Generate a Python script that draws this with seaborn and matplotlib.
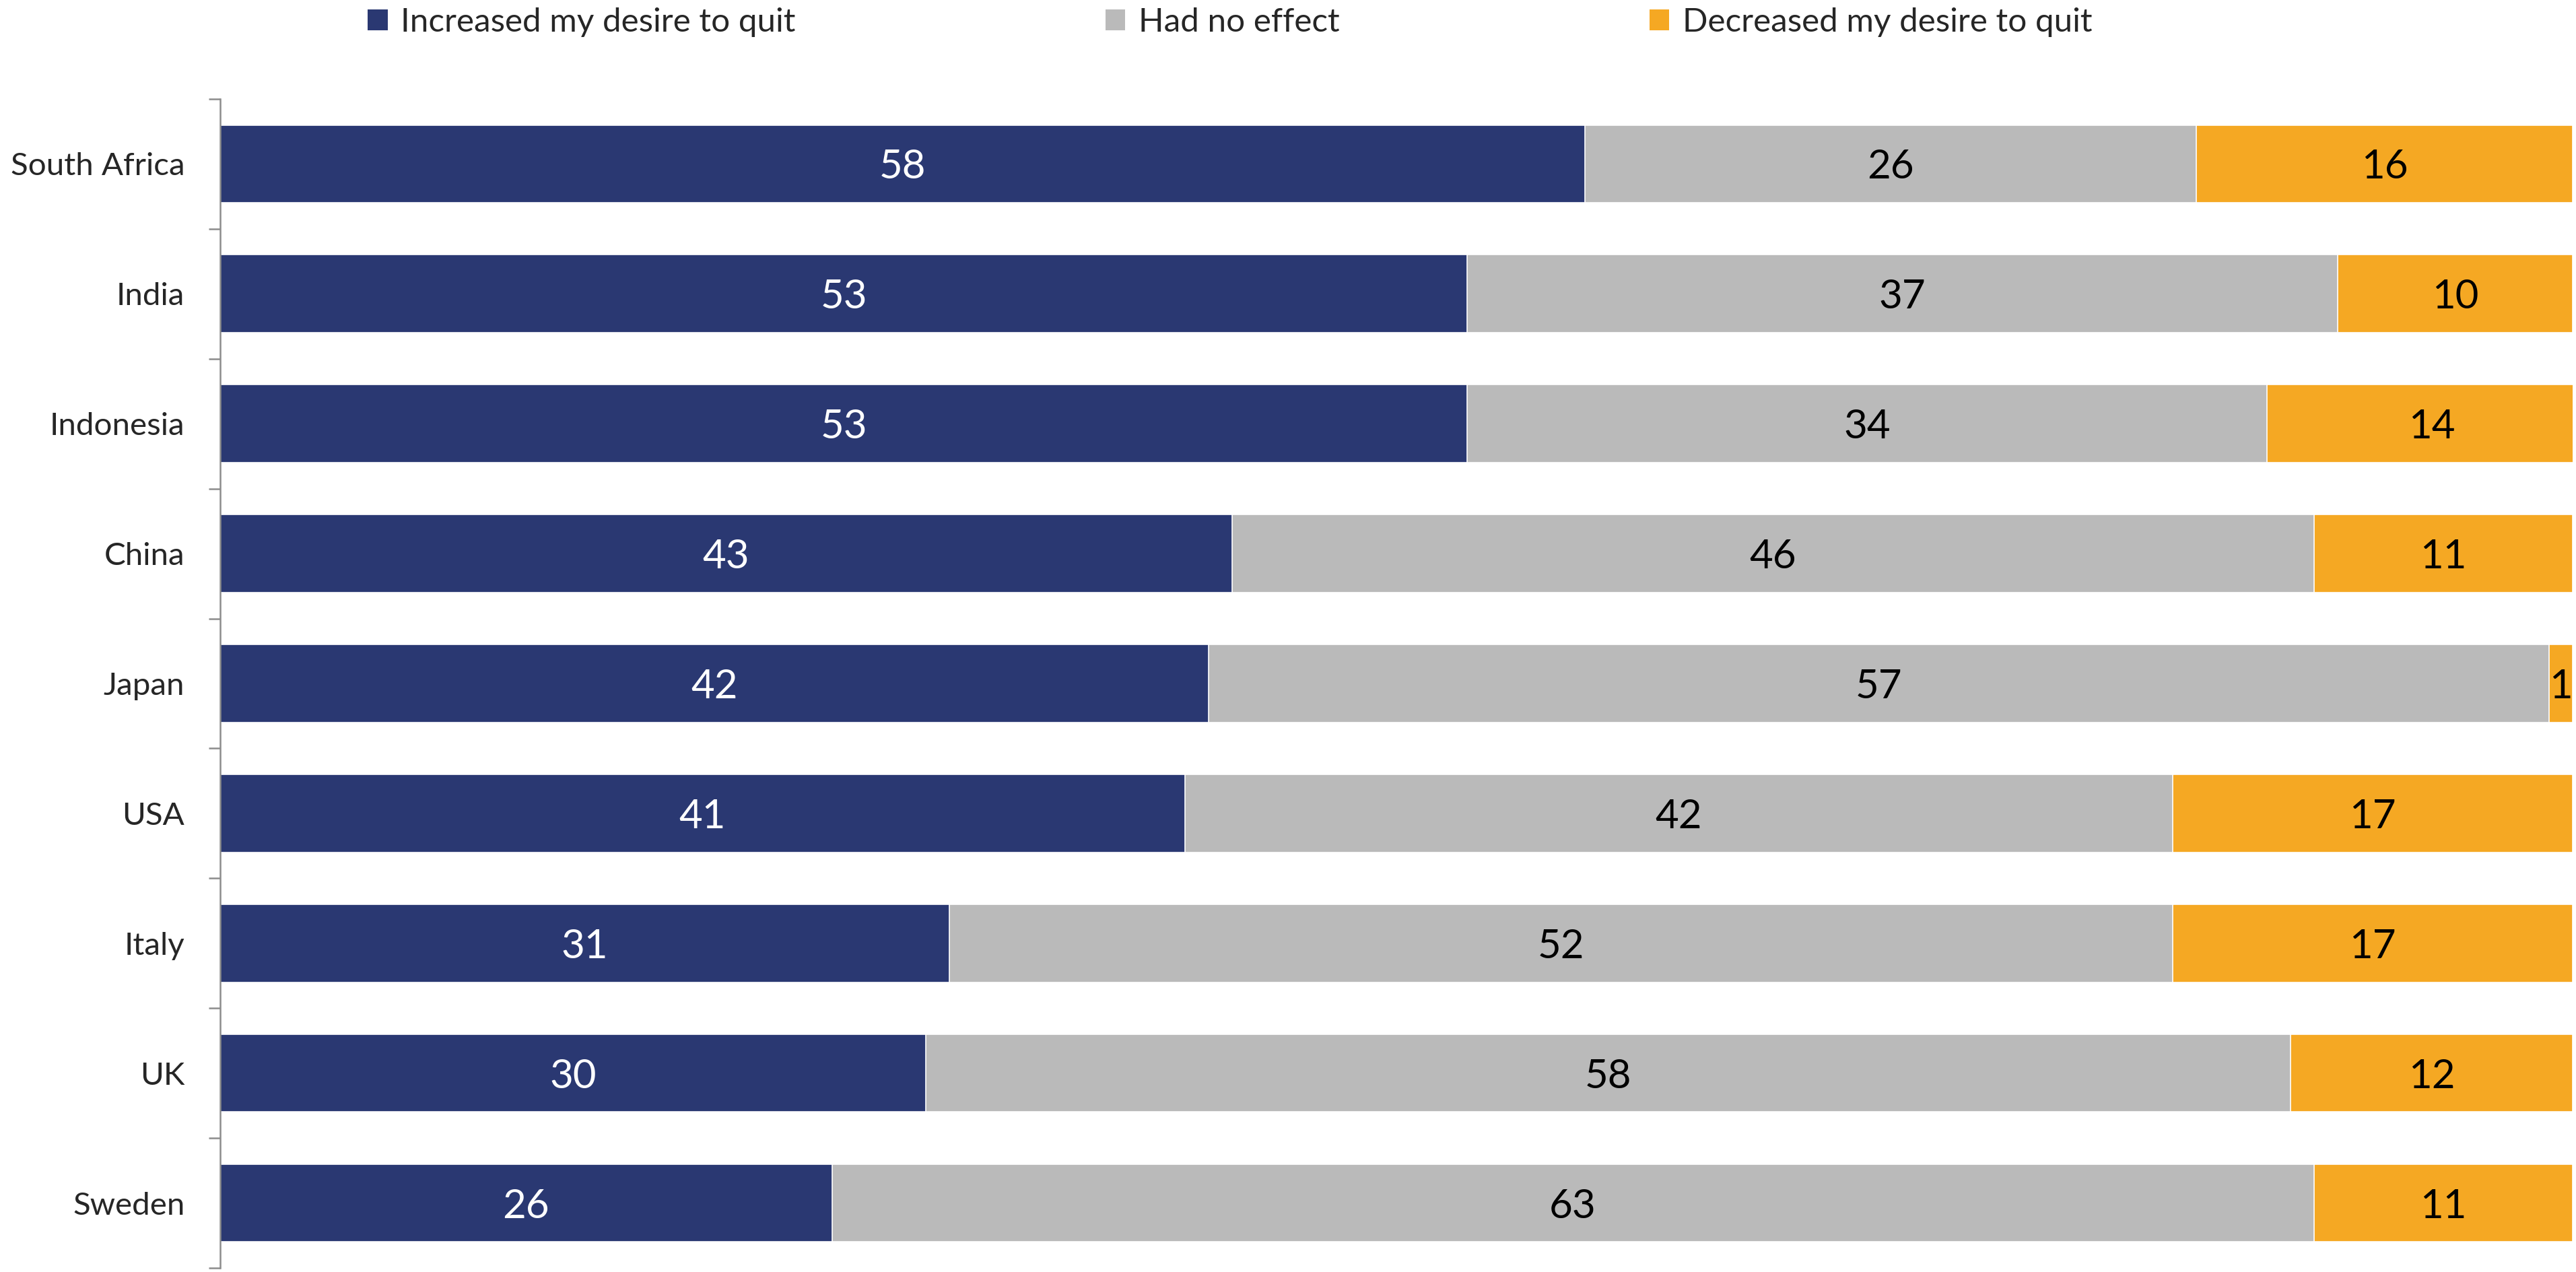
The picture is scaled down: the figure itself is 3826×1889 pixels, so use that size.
import numpy as np
import pandas as pd
import matplotlib
matplotlib.use("Agg")
import matplotlib.pyplot as plt
import seaborn as sns
from matplotlib.patches import Patch

# Survey results (%) per country
countries = ["South Africa", "India", "Indonesia", "China", "Japan",
             "USA", "Italy", "UK", "Sweden"]
increased = [58, 53, 53, 43, 42, 41, 31, 30, 26]
no_effect = [26, 37, 34, 46, 57, 42, 52, 58, 63]
decreased = [16, 10, 14, 11, 1, 17, 17, 12, 11]
series_names = ["Increased my desire to quit", "Had no effect",
                "Decreased my desire to quit"]
colors = ["#2A3872", "#BABABA", "#F5A823"]
label_colors = ["white", "black", "black"]

sns.set_style("white")
plt.rcParams["font.family"] = ["Lato", "DejaVu Sans"]

df = pd.DataFrame({"country": countries, "inc": increased,
                   "none": no_effect, "dec": decreased})
df["c1"] = df["inc"]
df["c2"] = df["inc"] + df["none"]
df["c3"] = df["c2"] + df["dec"]

fig = plt.figure(figsize=(19.13, 9.445), dpi=200)
ax = fig.add_axes([0.0855, 0.0032, 0.9132, 0.919])

# Stacked bars: draw cumulative totals from the longest to the shortest
for col, color in (("c3", colors[2]), ("c2", colors[1]), ("c1", colors[0])):
    sns.barplot(data=df, x=col, y="country", color=color, orient="h",
                width=0.6, saturation=1, edgecolor="white", linewidth=0.6,
                ax=ax)

# Value labels centred in each segment
for i, row in df.iterrows():
    segs = [row["inc"], row["none"], row["dec"]]
    left = 0
    for v, tc in zip(segs, label_colors):
        ax.text(left + v / 2, i, f"{v}", ha="center", va="center_baseline",
                fontsize=21.6, color=tc)
        left += v

ax.set_xlim(0, 100)
ax.set_ylim(len(countries) - 0.5, -0.5)
ax.set_xlabel("")
ax.set_ylabel("")
ax.set_xticks([])

# Category labels at centres, tick marks at category boundaries
ax.set_yticks(np.arange(len(countries)))
ax.set_yticklabels(countries, fontsize=17.1)
ax.tick_params(axis="y", which="major", length=0, pad=19)
ax.set_yticks(np.arange(len(countries) + 1) - 0.5, minor=True)
ax.tick_params(axis="y", which="minor", length=6.1, width=0.9,
               color="#8C8C8C", left=True)

for s in ("top", "right", "bottom"):
    ax.spines[s].set_visible(False)
ax.spines["left"].set_color("#8C8C8C")
ax.spines["left"].set_linewidth(0.9)

handles = [Patch(facecolor=c, edgecolor="none", label=n)
           for c, n in zip(colors, series_names)]
fig.legend(handles=handles, loc="center", bbox_to_anchor=(0.4775, 0.9825),
           ncol=3, frameon=False, fontsize=17.8, handlelength=0.6,
           handleheight=0.6, handletextpad=0.4, columnspacing=9.3,
           borderpad=0)

fig.savefig("out.png", dpi=200)
